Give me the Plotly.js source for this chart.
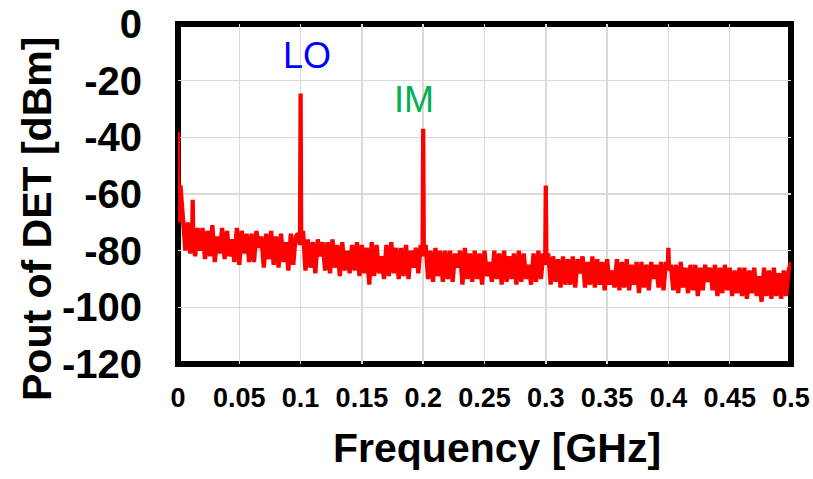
<!DOCTYPE html>
<html><head><meta charset="utf-8">
<script src="https://cdn.plot.ly/plotly-3.0.1.min.js"></script>
<style>html,body{margin:0;padding:0;background:#fff}#chart{width:813px;height:479px}</style>
</head><body><div id="chart"></div>
<script>
// Frequency bins (GHz) - finer bins around the tones
const freqGHz = [
0,0.0005,0.002,0.004,0.006,0.008,0.01,0.0115,0.012,0.0125,0.014,0.016,0.018,
0.02,0.022,0.024,0.026,0.028,0.03,0.032,0.034,0.036,0.038,
0.04,0.042,0.044,0.046,0.048,0.05,0.052,0.054,0.056,0.058,
0.06,0.062,0.064,0.066,0.068,0.07,0.072,0.074,0.076,0.078,
0.08,0.082,0.084,0.086,0.088,0.09,0.092,0.094,0.096,0.098,0.0995,
0.1,0.1005,0.102,0.104,0.106,0.108,0.11,0.112,0.114,0.116,0.118,
0.12,0.122,0.124,0.126,0.128,0.13,0.132,0.134,0.136,0.138,
0.14,0.142,0.144,0.146,0.148,0.15,0.152,0.154,0.156,0.158,
0.16,0.162,0.164,0.166,0.168,0.17,0.172,0.174,0.176,0.178,
0.18,0.182,0.184,0.186,0.188,0.19,0.192,0.194,0.196,0.198,0.1995,
0.2,0.2005,0.202,0.204,0.206,0.208,0.21,0.212,0.214,0.216,0.218,
0.22,0.222,0.224,0.226,0.228,0.23,0.232,0.234,0.236,0.238,
0.24,0.242,0.244,0.246,0.248,0.25,0.252,0.254,0.256,0.258,
0.26,0.262,0.264,0.266,0.268,0.27,0.272,0.274,0.276,0.278,
0.28,0.282,0.284,0.286,0.288,0.29,0.292,0.294,0.296,0.298,0.2995,
0.3,0.3005,0.302,0.304,0.306,0.308,0.31,0.312,0.314,0.316,0.318,
0.32,0.322,0.324,0.326,0.328,0.33,0.332,0.334,0.336,0.338,
0.34,0.342,0.344,0.346,0.348,0.35,0.352,0.354,0.356,0.358,
0.36,0.362,0.364,0.366,0.368,0.37,0.372,0.374,0.376,0.378,
0.38,0.382,0.384,0.386,0.388,0.39,0.392,0.394,0.396,0.398,0.3995,
0.4,0.4005,0.402,0.404,0.406,0.408,0.41,0.412,0.414,0.416,0.418,
0.42,0.422,0.424,0.426,0.428,0.43,0.432,0.434,0.436,0.438,
0.44,0.442,0.444,0.446,0.448,0.45,0.452,0.454,0.456,0.458,
0.46,0.462,0.464,0.466,0.468,0.47,0.472,0.474,0.476,0.478,
0.48,0.482,0.484,0.486,0.488,0.49,0.492,0.494,0.496,0.498,
0.5];
// Detector output (dBm)
const poutDbm = [
-38,-70,-57,-71,-80,-70,-81,-76,-62,-77,-82,-72,-80,
-72,-83,-73,-82,-71,-84,-75,-81,-72,-83,
-73,-82,-76,-84,-72,-85,-73,-81,-74,-84,
-74,-84,-73,-79,-75,-86,-74,-83,-73,-85,
-75,-86,-74,-84,-77,-87,-74,-85,-75,-74,-78,
-24.5,-77,-73,-87,-76,-86,-77,-88,-76,-82,-77,
-87,-77,-88,-76,-86,-78,-89,-77,-87,-80,
-88,-78,-87,-77,-89,-78,-88,-79,-92,-77,
-89,-78,-88,-82,-90,-78,-89,-77,-88,-79,
-90,-79,-89,-78,-90,-80,-86,-79,-88,-78,-82,
-37,-81,-78,-90,-80,-91,-79,-89,-80,-91,-80,
-90,-80,-91,-81,-86,-80,-92,-79,-90,-81,
-91,-80,-90,-81,-92,-80,-89,-84,-91,-80,
-90,-81,-92,-80,-91,-82,-90,-81,-92,-80,
-91,-81,-90,-85,-92,-81,-91,-80,-90,-81,-85,
-57,-84,-81,-92,-82,-91,-83,-93,-82,-92,-83,
-92,-82,-93,-83,-88,-82,-93,-84,-92,-82,
-93,-83,-92,-84,-94,-83,-92,-87,-93,-83,
-94,-84,-93,-83,-94,-85,-92,-84,-95,-84,
-93,-85,-94,-84,-90,-85,-93,-84,-94,-84,-87,
-79,-87,-85,-94,-85,-95,-84,-93,-86,-95,-85,
-94,-85,-96,-86,-94,-85,-91,-86,-94,-85,
-96,-86,-95,-85,-94,-86,-96,-87,-95,-86,
-96,-86,-97,-87,-95,-86,-96,-89,-98,-86,
-96,-87,-97,-86,-96,-88,-97,-87,-96,-87,
-84];
const xTickVals = [0,0.05,0.1,0.15,0.2,0.25,0.3,0.35,0.4,0.45,0.5];
const xTickText = ['0','0.05','0.1','0.15','0.2','0.25','0.3','0.35','0.4','0.45','0.5'];
const yTickVals = [0,-20,-40,-60,-80,-100,-120];
const yTickText = ['0','-20','-40','-60','-80','-100','-120'];
const xTitle = 'Frequency [GHz]';
const yTitle = 'Pout of DET [dBm]';
const peakNames = ['LO','IM'];

const FONT = 'Arial, "Liberation Sans", sans-serif';

const trace = {
  x: freqGHz, y: poutDbm, type: 'scatter', mode: 'lines',
  line: {color: '#FF0000', width: 4.3}, hoverinfo: 'skip'
};

const layout = {
  width: 813, height: 479,
  margin: {l: 178, r: 22, t: 24, b: 115, pad: 0},
  paper_bgcolor: '#ffffff', plot_bgcolor: '#ffffff',
  showlegend: false,
  xaxis: {
    range: [0, 0.5], tickmode: 'array', tickvals: xTickVals, ticktext: xTickText,
    showgrid: true, gridcolor: '#D9D9D9', gridwidth: 1.5, zeroline: false, showline: false,
    ticks: 'outside', ticklen: 10, tickcolor: 'rgba(0,0,0,0)',
    tickfont: {family: FONT, size: 27, color: '#000', weight: 'bold'}, fixedrange: true
  },
  yaxis: {
    range: [-120, 0], tickmode: 'array', tickvals: yTickVals, ticktext: yTickText,
    showgrid: true, gridcolor: '#D9D9D9', gridwidth: 1.5, zeroline: false, showline: false,
    ticks: 'outside', ticklen: 27, tickcolor: 'rgba(0,0,0,0)',
    tickfont: {family: FONT, size: 40, color: '#000', weight: 'bold'}, fixedrange: true
  },
  shapes: [{type: 'rect', xref: 'paper', yref: 'paper', x0: 0, x1: 1, y0: 0, y1: 1,
            line: {color: '#000', width: 6}, layer: 'between'}],
  annotations: [
    {text: xTitle, xref: 'paper', yref: 'paper', x: 0.5212, y: -0.2459, xanchor: 'center', yanchor: 'middle',
     showarrow: false, font: {family: FONT, size: 41, color: '#000', weight: 'bold'}},
    {text: yTitle, xref: 'paper', yref: 'paper', x: -0.230, y: 0.4265, xanchor: 'center', yanchor: 'middle',
     textangle: -90, showarrow: false, font: {family: FONT, size: 41, color: '#000', weight: 'bold'}},
    {text: peakNames[0], xref: 'x', yref: 'y', x: 0.105, y: -11.2, xanchor: 'center', yanchor: 'middle',
     showarrow: false, font: {family: FONT, size: 36, color: '#0000FF'}},
    {text: peakNames[1], xref: 'x', yref: 'y', x: 0.1925, y: -26.7, xanchor: 'center', yanchor: 'middle',
     showarrow: false, font: {family: FONT, size: 36, color: '#00B050'}}
  ]
};

Plotly.newPlot('chart', [trace], layout, {displayModeBar: false, staticPlot: true});
</script>
</body></html>
